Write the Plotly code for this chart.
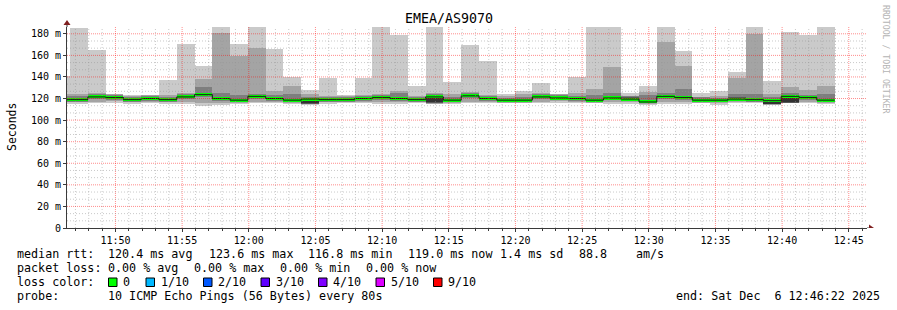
import pandas as pd
import plotly.graph_objects as go

# ---------------- data ----------------
title_text = "EMEA/AS9070"
first_step_start = "2025-12-06 11:45:16"
step_seconds = 80
view_start = "2025-12-06 11:46:22"
view_end = "2025-12-06 12:46:22"

# sorted ping rtts per 80 s step (ms), 44 steps
ping_min = [115, 115, 115.5, 116, 115, 115.5, 115, 115, 113.5, 114, 115,
            115.5, 115.5, 115, 114, 115, 115.5, 115.5, 115, 115, 115.5, 114.5,
            114.5, 115.5, 116, 115.5, 115.5, 115.5, 116, 115.5, 115.5, 115, 114.5,
            114, 115, 114.5, 115.5, 114, 116, 115.5, 114, 115.5, 115.5, 115]
ping_2 = [116.5, 116.5, 117, 117.5, 116.5, 117, 116.5, 117, 116, 116, 116,
          117, 117, 116, 114.6, 116.5, 116.5, 117, 116.5, 116.5, 116.5, 115.2,
          116, 117, 117, 116, 116, 117, 117.5, 117, 116, 116.5, 116.5,
          115.2, 117, 116.5, 116, 115.5, 117, 116.5, 114.4, 115.5, 117, 116]
ping_3 = [117, 117, 119.5, 119, 117, 118, 117, 119.5, 121, 118, 116.5,
          120, 118, 116.5, 114.8, 117, 117, 118, 119, 118, 117, 115.5,
          116.5, 120.5, 118, 116.5, 116.5, 119.5, 118.5, 118, 116.5, 118.5, 117.5,
          115.5, 120, 119, 116.5, 116.5, 117.5, 117, 114.6, 116, 119, 116.5]
ping_4 = [118, 118, 120.5, 120, 118, 119, 118, 120.5, 122.5, 119, 117.5,
          121, 119, 117.5, 115, 118, 118, 119, 120, 119, 118, 116,
          117.5, 121.5, 119, 117.5, 117.5, 120.5, 119.5, 119, 117.5, 119.5, 118.5,
          116.5, 121, 120, 117.5, 117.5, 118.5, 118, 114.8, 116.3, 120, 117.5]
ping_5 = [118.5, 118.5, 121, 120.5, 118.5, 119.5, 118.5, 121, 123, 119.5, 118,
          121.5, 119.5, 118, 115.5, 118.5, 118.5, 119.5, 120.5, 119.5, 118.5, 116.5,
          118, 122, 119.5, 118, 118, 121, 120, 119.5, 118, 120, 119,
          117, 121.5, 120.5, 118, 118, 119, 118.5, 115, 116.7, 120.5, 118]
ping_6 = [119.5, 119.5, 122, 121.5, 119.5, 120.5, 119.5, 122, 124, 120.5, 119,
          122.5, 120.5, 119, 119.5, 119.5, 119.5, 120.5, 121.5, 120.5, 119.5, 120.5,
          119, 123, 120.5, 119, 119, 122, 121, 120.5, 119, 121, 120,
          118.5, 122.5, 121.5, 119, 119, 120, 119.5, 118, 120.4, 121.5, 119]
ping_7 = [120.5, 120.5, 123, 122.5, 120.5, 121.5, 120.5, 123, 125.5, 121.5, 120,
          123.5, 121.5, 120, 120, 120.5, 120.5, 121.5, 122.5, 121.5, 120.5, 123,
          120, 124, 121.5, 120, 120, 123, 122, 121.5, 120, 122, 121,
          118.5, 123.5, 122.5, 120, 120, 121, 120.5, 119.5, 123.5, 122.5, 120]
ping_8 = [122, 122, 124, 123, 121.5, 122, 121, 124, 131, 125, 123,
          124, 123, 124, 121, 121.5, 121.5, 122.5, 123.5, 125, 121.5, 124,
          121, 125, 122.5, 120.5, 121, 124.5, 123, 122, 123, 125, 122,
          123, 125, 129, 121, 120.5, 124, 124, 121, 125, 123, 124]
ping_9 = [124, 124, 125, 124, 122, 123, 123, 125, 138, 181, 159,
          167, 127, 132, 124, 122, 122.5, 123, 124, 127, 122.5, 125,
          124, 126, 123.5, 122, 124, 125.5, 124, 125, 129, 149, 122.5,
          126, 172, 150, 121.5, 122.5, 139, 180, 124, 131, 128, 131.5]
ping_max = [141, 185.5, 165, 124, 123.5, 123, 137, 171, 150, 186, 171,
            186, 165.7, 140, 128, 139, 123, 139, 186, 179, 132, 186,
            135, 170, 155, 124.5, 127.3, 134, 124.5, 139.5, 186, 186, 125,
            131.5, 186, 164, 125, 127, 145, 186, 136, 181.5, 178.7, 186]
median_rtt = [119, 119, 121.5, 121, 119, 120, 119, 121.5, 123.6, 120, 118.5,
              122, 120, 118.5, 119.5, 119, 119, 120, 121, 120, 119, 121.5,
              118.5, 122.5, 120, 118.5, 118.5, 121.5, 120.5, 120, 118.5, 120.5, 119.5,
              116.8, 122, 121, 118.5, 118.5, 119.5, 119, 118, 122, 121, 118.5]

y_tick_values = [0, 20, 40, 60, 80, 100, 120, 140, 160, 180]
y_tick_labels = ["0", "20 m", "40 m", "60 m", "80 m", "100 m", "120 m", "140 m", "160 m", "180 m"]

loss_labels = ["0", "1/10", "2/10", "3/10", "4/10", "5/10", "9/10"]
loss_colors = ["#00ff00", "#00b8ff", "#0059ff", "#5e00ff", "#7e00ff", "#dd00ff", "#ff0000"]

legend_rtt = ["120.4 ms avg", "123.6 ms max", "116.8 ms min", "119.0 ms now", "1.4 ms sd", "88.8", "am/s"]
legend_loss = ["0.00 % avg", "0.00 % max", "0.00 % min", "0.00 % now"]
probe_text = "10 ICMP Echo Pings (56 Bytes) every 80s"
end_text = "end: Sat Dec  6 12:46:22 2025"

# ---------------- layout constants ----------------
W, H = 897, 310
L, R, T, B = 67, 867, 27, 228
MONO = "DejaVu Sans Mono"
AXIS_C = "#3a3a3a"
ARROW_C = "#7f1f1f"
RED_GRID = "rgba(255,0,0,0.45)"
GRAY_GRID = "rgba(150,150,150,0.5)"

n = len(median_rtt)
starts = pd.date_range(first_step_start, periods=n, freq=f"{step_seconds}s")
centers = starts + pd.Timedelta(seconds=step_seconds / 2)
line_x = list(starts) + [starts[-1] + pd.Timedelta(seconds=step_seconds)]
bar_w = step_seconds * 1000

fig = go.Figure()

layers = [
    (ping_min, ping_max, "#cacaca"),
    (ping_2, ping_9, "#a4a4a4"),
    (ping_3, ping_8, "#7e7e7e"),
    (ping_4, ping_7, "#585858"),
    (ping_5, ping_6, "#323232"),
]
for lo, hi, col in layers:
    fig.add_trace(go.Bar(
        x=centers, base=lo, y=[h - l for l, h in zip(lo, hi)], width=bar_w,
        marker=dict(color=col, line=dict(width=0)), hoverinfo="skip", showlegend=False))

fig.add_trace(go.Scatter(
    x=line_x, y=median_rtt + [median_rtt[-1]], mode="lines",
    line=dict(shape="hv", color="#1a1a1a", width=1), hoverinfo="skip", showlegend=False))

band = 2.8
fig.add_trace(go.Bar(
    x=centers, base=[m - band / 2 for m in median_rtt], y=[band] * n, width=bar_w,
    marker=dict(color=loss_colors[0], line=dict(width=0)), hoverinfo="skip", showlegend=False))

shapes = []
# grid drawn above the smoke (as rrdtool does)
for t in pd.date_range("2025-12-06 11:47", "2025-12-06 12:46", freq="1min"):
    major = t.minute % 5 == 0
    shapes.append(dict(type="line", xref="x", yref="paper", x0=t, x1=t, y0=0, y1=1,
                       layer="above",
                       line=dict(color=RED_GRID if major else GRAY_GRID,
                                 width=1, dash="1px,1px" if major else "1px,2px")))
k = 1
while k * 20 / 3 < 186.3:
    v = k * 20 / 3
    major = k % 3 == 0
    shapes.append(dict(type="line", xref="paper", yref="y", x0=0, x1=1, y0=v, y1=v,
                       layer="above",
                       line=dict(color=RED_GRID if major else GRAY_GRID,
                                 width=1, dash="1px,1px" if major else "1px,2px")))
    k += 1

# axis arrows
shapes.append(dict(type="line", xref="paper", yref="y", xsizemode="pixel", xanchor=1,
                   x0=0, x1=3, y0=0, y1=0, line=dict(color=AXIS_C, width=1)))
shapes.append(dict(type="path", xref="paper", yref="y", xsizemode="pixel", ysizemode="pixel",
                   xanchor=1, yanchor=0, path="M 2,-3.5 L 7,0 L 2,3.5 Z",
                   fillcolor=ARROW_C, line=dict(color=ARROW_C, width=0)))
shapes.append(dict(type="line", xref="paper", yref="paper", ysizemode="pixel", yanchor=1,
                   x0=0, x1=0, y0=0, y1=3, line=dict(color=AXIS_C, width=1)))
shapes.append(dict(type="path", xref="paper", yref="paper", xsizemode="pixel", ysizemode="pixel",
                   xanchor=0, yanchor=1, path="M -3.5,2 L 3.5,2 L 0,7 Z",
                   fillcolor=ARROW_C, line=dict(color=ARROW_C, width=0)))


def px2x(px):
    return (px - L) / (R - L)


def py2y(py):
    return (B - py) / (B - T)


def nb(s):
    return s.replace(" ", "\u00a0")


annotations = []


def ann(text, px, py, size=11.7, xanchor="left", color="#000000", angle=0):
    annotations.append(dict(xref="paper", yref="paper", x=px2x(px), y=py2y(py), text=nb(text),
                            showarrow=False, xanchor=xanchor, yanchor="middle", textangle=angle,
                            borderpad=0, font=dict(family=MONO, size=size, color=color)))


ann(title_text, 448.5, 19, size=13.3, xanchor="center")
ann("Seconds", 12, 127, size=11.5, xanchor="center", angle=-90)
ann("RRDTOOL / TOBI OETIKER", 886, 59, size=8.2, xanchor="center", color="#b4b4b4", angle=90)

row_y = [254, 268, 282, 296]
ann("median rtt:", 15.5, row_y[0])
for txt, px in zip(legend_rtt, [106.5, 207.5, 306.5, 406.5, 499, 577.5, 634.5]):
    ann(txt, px, row_y[0])
ann("packet loss:", 15.5, row_y[1])
for txt, px in zip(legend_loss, [106.5, 192.5, 278.5, 365]):
    ann(txt, px, row_y[1])
ann("loss color:", 15.5, row_y[2])
sq_left = [108.5, 146, 203.5, 261, 318.5, 376, 433.5]
for lab, col, sx in zip(loss_labels, loss_colors, sq_left):
    shapes.append(dict(type="rect", xref="paper", yref="paper",
                       x0=px2x(sx), x1=px2x(sx + 8.5), y0=py2y(286.5), y1=py2y(278),
                       fillcolor=col, line=dict(color="#000000", width=1)))
    ann(lab, sx + 13.5, row_y[2])
ann("probe:", 15.5, row_y[3])
ann(probe_text, 106.5, row_y[3])
ann(end_text, 881, row_y[3], xanchor="right")

fig.update_layout(
    width=W, height=H, autosize=False,
    margin=dict(l=L, r=W - R, t=T, b=H - B, pad=0),
    paper_bgcolor="#ffffff", plot_bgcolor="#ffffff",
    barmode="overlay", bargap=0, showlegend=False,
    shapes=shapes, annotations=annotations,
    font=dict(family=MONO, size=10, color="#000000"),
    xaxis=dict(type="date", range=[view_start, view_end],
               tick0="2025-12-06 11:50:00", dtick=300000, tickformat="%H:%M",
               ticks="outside", ticklen=3, tickwidth=1, tickcolor=AXIS_C,
               showline=True, linecolor=AXIS_C, linewidth=1,
               showgrid=False, zeroline=False, fixedrange=True,
               tickfont=dict(family=MONO, size=10, color="#000000"),
               minor=dict(dtick=60000, tick0="2025-12-06 11:50:00", ticks="outside",
                          ticklen=2, tickcolor=AXIS_C, showgrid=False)),
    yaxis=dict(range=[0, 186.3], tickvals=y_tick_values, ticktext=y_tick_labels,
               ticks="outside", ticklen=3, tickwidth=1, tickcolor=AXIS_C,
               showline=True, linecolor=AXIS_C, linewidth=1,
               showgrid=False, zeroline=False, fixedrange=True,
               tickfont=dict(family=MONO, size=10, color="#000000")),
)

fig.write_html("out.html", config={"displayModeBar": False})
